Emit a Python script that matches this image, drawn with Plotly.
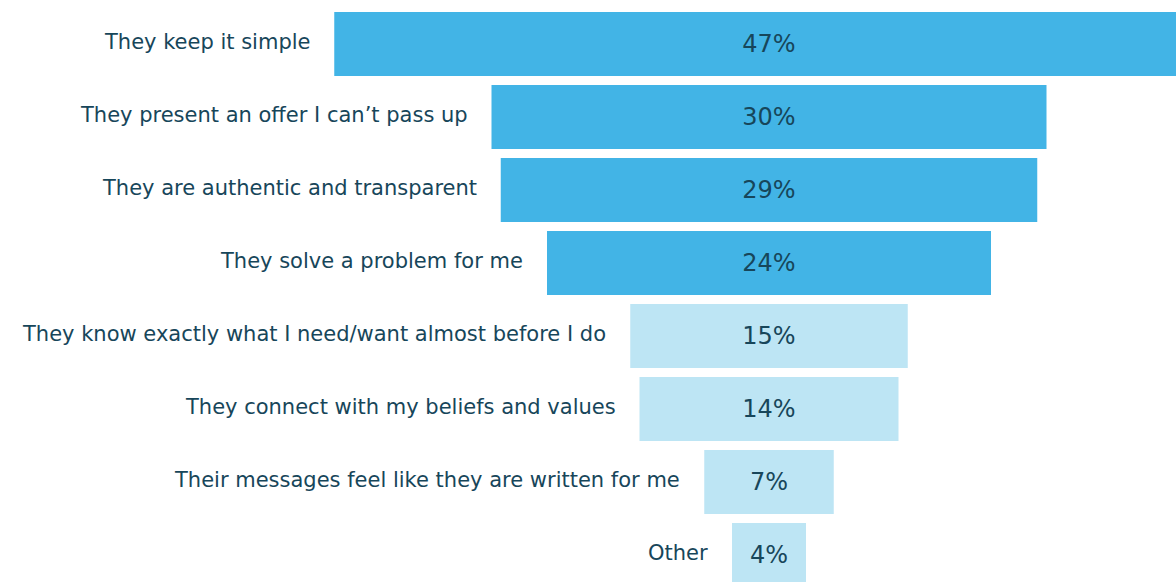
import plotly.graph_objects as go

categories = [
    "They keep it simple",
    "They present an offer I can\u2019t pass up",
    "They are authentic and transparent",
    "They solve a problem for me",
    "They know exactly what I need/want almost before I do",
    "They connect with my beliefs and values",
    "Their messages feel like they are written for me",
    "Other",
]
values = [47, 30, 29, 24, 15, 14, 7, 4]
highlight = [True, True, True, True, False, False, False, False]

DARK = "#42b4e6"
LIGHT = "#bde5f4"
TEXT = "#17465a"
FONT = "DejaVu Sans"

rows = list(range(len(categories)))
colors = [DARK if h else LIGHT for h in highlight]
bases = [-v / 2 for v in values]

fig = go.Figure(
    go.Bar(
        y=rows,
        x=values,
        base=bases,
        orientation="h",
        width=0.877,
        marker=dict(color=colors, line=dict(width=0)),
        text=[f"{v}%" for v in values],
        textposition="inside",
        insidetextanchor="middle",
        textangle=0,
        textfont=dict(family=FONT, size=24, color=TEXT),
        hoverinfo="skip",
    )
)

for r, c, v in zip(rows, categories, values):
    fig.add_annotation(
        x=-v / 2, y=r, xref="x", yref="y",
        text=c, showarrow=False,
        xanchor="right", yanchor="middle",
        xshift=-22, yshift=2,
        font=dict(family=FONT, size=21, color=TEXT),
    )

k = 18.5  # px per percentage point
fig.update_layout(
    width=1176, height=582,
    margin=dict(l=0, r=0, t=0, b=0),
    paper_bgcolor="white", plot_bgcolor="white",
    showlegend=False,
    xaxis=dict(range=[-769 / k, (1176 - 769) / k], visible=False, fixedrange=True),
    yaxis=dict(range=[(582 - 44) / 73, -44 / 73], visible=False, fixedrange=True),
    uniformtext=dict(minsize=10, mode="show"),
)

fig.write_html("out.html")
